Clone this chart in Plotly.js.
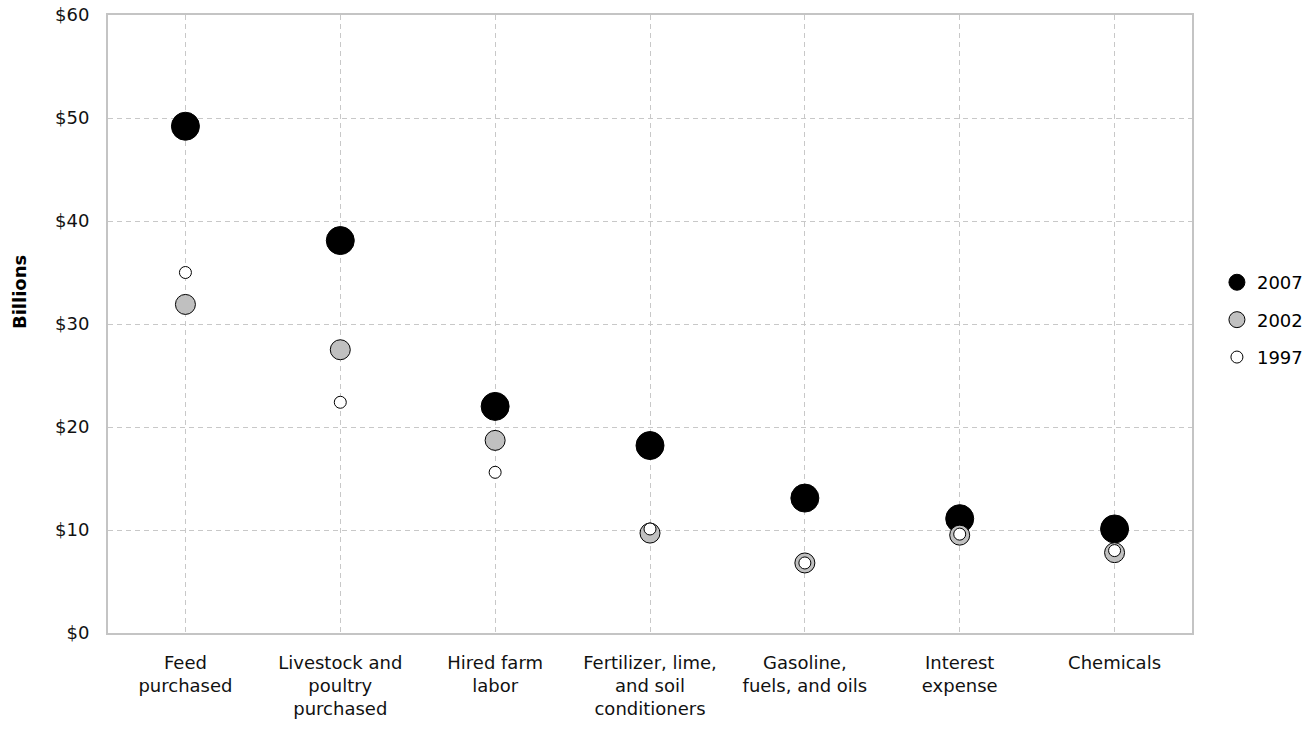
<!DOCTYPE html>
<html>
<head>
<meta charset="utf-8">
<script src="https://cdn.plot.ly/plotly-3.0.1.min.js"></script>
<style>html,body{margin:0;padding:0;background:#fff;}#chart{width:1315px;height:732px;}</style>
</head>
<body>
<div id="chart"></div>
<script>
const categories = [
  "Feed<br>purchased",
  "Livestock and<br>poultry<br>purchased",
  "Hired farm<br>labor",
  "Fertilizer, lime,<br>and soil<br>conditioners",
  "Gasoline,<br>fuels, and oils",
  "Interest<br>expense",
  "Chemicals"
];
const values2007 = [49.2, 38.1, 22.0, 18.2, 13.1, 11.1, 10.1];
const values2002 = [31.9, 27.5, 18.7, 9.7, 6.8, 9.5, 7.8];
const values1997 = [35.0, 22.4, 15.6, 10.1, 6.8, 9.6, 8.0];
const yTicks = [0, 10, 20, 30, 40, 50, 60];

const fontFam = "DejaVu Sans, Verdana, sans-serif";

const traces = [
  {name: "2007", legendgroup: "a", x: categories, y: values2007, type: "scatter", mode: "markers",
   marker: {size: 28, color: "#000000", line: {color: "#000000", width: 1}}},
  {name: "2002", legendgroup: "b", x: categories, y: values2002, type: "scatter", mode: "markers",
   marker: {size: 20, color: "#c0c0c0", line: {color: "#000000", width: 1}}},
  {name: "1997", legendgroup: "c", x: categories, y: values1997, type: "scatter", mode: "markers",
   marker: {size: 12, color: "#ffffff", line: {color: "#000000", width: 1}}}
];

const layout = {
  width: 1315, height: 732,
  margin: {l: 108, r: 123, t: 15, b: 99, autoexpand: false},
  paper_bgcolor: "#ffffff", plot_bgcolor: "#ffffff",
  font: {family: fontFam, size: 18, color: "#000000"},
  showlegend: true,
  legend: {x: 1.023, y: 0.597, xanchor: "left", yanchor: "top",
           font: {family: fontFam, size: 18, color: "#000000"}, tracegroupgap: 11},
  xaxis: {
    type: "category", range: [-0.5, 6.5],
    showgrid: true, gridcolor: "#c8c8c8", griddash: "5px,4px", gridwidth: 1,
    showline: true, linecolor: "#c4c4c4", linewidth: 2, mirror: true,
    ticks: "outside", ticklen: 12, tickcolor: "rgba(0,0,0,0)",
    tickfont: {family: fontFam, size: 18, color: "#111111"},
    zeroline: false, fixedrange: true
  },
  yaxis: {
    range: [0, 60], tickvals: yTicks, ticktext: yTicks.map(v => "$" + v),
    showgrid: true, gridcolor: "#c8c8c8", griddash: "5px,4px", gridwidth: 1,
    showline: true, linecolor: "#c4c4c4", linewidth: 2, mirror: true,
    ticks: "outside", ticklen: 13, tickcolor: "rgba(0,0,0,0)",
    tickfont: {family: fontFam, size: 18, color: "#111111"},
    zeroline: false
  },
  annotations: [{
    text: "<b>Billions</b>", textangle: -90, showarrow: false,
    xref: "paper", yref: "paper", x: -0.081, y: 0.552, xanchor: "center", yanchor: "middle",
    font: {family: fontFam, size: 18, color: "#000000"}
  }]
};

Plotly.newPlot("chart", traces, layout, {displayModeBar: false, staticPlot: true});
</script>
</body>
</html>
